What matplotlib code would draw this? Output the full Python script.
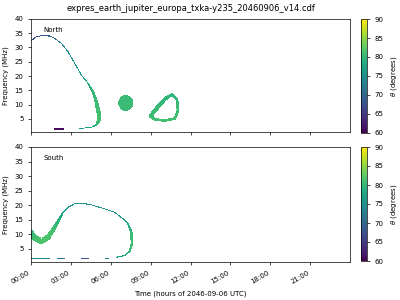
import numpy as np
import matplotlib
matplotlib.use("Agg")
import matplotlib.pyplot as plt

plt.rcParams['font.family'] = 'DejaVu Sans'
plt.rcParams['font.size'] = 5
plt.rcParams['axes.linewidth'] = 0.5
plt.rcParams['xtick.major.width'] = 0.5
plt.rcParams['ytick.major.width'] = 0.5
plt.rcParams['xtick.major.size'] = 2
plt.rcParams['ytick.major.size'] = 2

title = "expres_earth_jupiter_europa_txka-y235_20460906_v14.cdf"
hour_ticks = [0, 3, 6, 9, 12, 15, 18, 21]
hour_labels = ["00:00", "03:00", "06:00", "09:00", "12:00", "15:00", "18:00", "21:00"]
freq_ticks = [5, 10, 15, 20, 25, 30, 35, 40]

# North hemisphere: main arc (time h, freq MHz, theta deg, width px)
north_arc_t = [0.02, 0.4, 0.78, 1.4, 1.78, 2.27, 2.78, 3.28, 3.77, 4.28, 4.65, 4.9, 5.08, 5.1, 4.9, 4.52]
north_arc_f = [32.4, 33.8, 34.15, 34.05, 33.2, 31.5, 28.55, 24.5, 20.4, 17.5, 14.55, 11.05, 7.0, 4.65, 2.9, 2.1]
north_arc_theta = [67, 67.5, 68, 69, 70.5, 72, 74, 75.5, 76.5, 78, 80, 80.5, 81, 81, 80, 77]
north_arc_width = [1.1, 1.1, 1.1, 1.1, 1.1, 1.1, 1.1, 1.1, 1.2, 1.4, 2.5, 3.8, 4.3, 4, 2.2, 1.1]

# North: ring shaped emission (closed)
north_ring_t = [8.96, 9.45, 10.05, 10.58, 10.95, 11.03, 10.8, 10.05, 9.3, 8.96]
north_ring_f = [6.05, 8.85, 12.0, 13.6, 11.65, 8.15, 5.18, 4.48, 4.83, 6.05]
north_ring_theta = [80.5, 80.5, 80, 79.5, 80, 80.5, 81, 81, 81, 80.5]
north_ring_width = [4, 4.3, 4, 2.8, 2.8, 2.8, 2.8, 2.6, 3, 4]

# North: round blob
north_blob_t, north_blob_f = 7.11, 10.6
north_blob_dt, north_blob_df = 0.56, 2.8
north_blob_theta = 80.5

# North: short low-frequency pieces
north_dash_t0 = [1.78, 3.67, 4.13]
north_dash_t1 = [2.45, 3.92, 4.43]
north_dash_f = [1.5, 1.74, 2.1]
north_dash_theta = [61, 75, 77]

# South hemisphere: main curve
south_arc_t = [0.0, 0.3, 0.77, 1.28, 1.65, 2.03, 2.4, 2.78, 3.28, 3.77, 4.52, 5.53, 6.28, 6.9, 7.28, 7.52, 7.58, 7.4, 7.03, 6.4]
south_arc_f = [10.3, 8.6, 7.6, 8.9, 11.2, 14.3, 17.5, 19.3, 20.5, 20.7, 20.1, 18.7, 17.5, 15.2, 13.5, 10.6, 7.1, 4.2, 2.7, 2.1]
south_arc_theta = [80, 81, 81.5, 81.5, 81, 79.5, 77, 75.5, 75, 75, 75, 75, 75.5, 76.5, 78, 80, 81, 80, 78, 76]
south_arc_width = [6, 5.5, 5, 5, 4.5, 3.2, 1.8, 1.2, 1.1, 1.1, 1.1, 1.1, 1.1, 1.3, 1.8, 2.6, 2.6, 1.8, 1.2, 1.1]

# South: low-frequency pieces
south_dash_t0 = [0.0, 2.03, 3.77, 5.57]
south_dash_t1 = [1.4, 2.53, 4.28, 5.83]
south_dash_f = [1.65, 1.65, 1.65, 1.65]
south_dash_theta = [74, 72, 67, 74]

t_edges = np.linspace(0, 24, 321)
f_edges = np.linspace(0.45, 40, 114)
tc = (t_edges[:-1] + t_edges[1:]) / 2
fc = (f_edges[:-1] + f_edges[1:]) / 2
TT, FF = np.meshgrid(tc, fc)

fig = plt.figure(figsize=(4, 3), dpi=100)
ax1 = fig.add_axes([0.0775, 0.56, 0.7975, 0.377])
ax2 = fig.add_axes([0.0775, 0.127, 0.7975, 0.383], sharex=ax1)
cax1 = fig.add_axes([0.902, 0.558, 0.015, 0.378])
cax2 = fig.add_axes([0.902, 0.13, 0.015, 0.38])

# pixels per hour / per MHz, used to paint curves with a pixel width
xs = 0.7975 * 400 / 24
ys = 0.377 * 300 / (40 - 0.45)
GX, GY = TT * xs, FF * ys


def paint(grid, t, f, w, th):
    px, py = np.asarray(t) * xs, np.asarray(f) * ys
    for i in range(len(px) - 1):
        dx, dy = px[i + 1] - px[i], py[i + 1] - py[i]
        L2 = max(dx * dx + dy * dy, 1e-9)
        u = np.clip(((GX - px[i]) * dx + (GY - py[i]) * dy) / L2, 0, 1)
        d = np.hypot(GX - px[i] - u * dx, GY - py[i] - u * dy)
        hw = (w[i] + u * (w[i + 1] - w[i])) / 2
        val = th[i] + u * (th[i + 1] - th[i])
        m = d <= hw
        grid[m] = val[m]


def paint_dashes(grid, t0, t1, f, th):
    for a, b, ff, v in zip(t0, t1, f, th):
        paint(grid, [a, b], [ff, ff], [1.3, 1.3], [v, v])


north = np.full(TT.shape, np.nan)
paint(north, north_arc_t, north_arc_f, north_arc_width, north_arc_theta)
paint(north, north_ring_t, north_ring_f, north_ring_width, north_ring_theta)
paint_dashes(north, north_dash_t0, north_dash_t1, north_dash_f, north_dash_theta)
blob = ((TT - north_blob_t) / north_blob_dt) ** 2 + ((FF - north_blob_f) / north_blob_df) ** 2 <= 1
north[blob] = north_blob_theta

south = np.full(TT.shape, np.nan)
paint(south, south_arc_t, south_arc_f, south_arc_width, south_arc_theta)
paint_dashes(south, south_dash_t0, south_dash_t1, south_dash_f, south_dash_theta)

for ax, cax, data, name in [(ax1, cax1, north, "North"), (ax2, cax2, south, "South")]:
    mesh = ax.pcolormesh(t_edges, f_edges, np.ma.masked_invalid(data), cmap='viridis',
                         vmin=60, vmax=90, shading='flat', antialiased=False, edgecolors='none')
    ax.set_xlim(0, 24)
    ax.set_ylim(0.45, 40)
    ax.set_yticks(freq_ticks)
    ax.set_ylabel("Frequency (MHz)")
    ax.text(0.04, 0.905, name, transform=ax.transAxes, va='center', ha='left')
    cb = fig.colorbar(mesh, cax=cax)
    cb.set_ticks([60, 65, 70, 75, 80, 85, 90])
    cb.set_label(r"$\theta$ (degrees)")
    cb.outline.set_linewidth(0.5)

ax1.set_xticks(hour_ticks)
ax2.set_xticks(hour_ticks)
ax2.set_xticklabels(hour_labels, rotation=30, ha='right')
plt.setp(ax1.get_xticklabels(), visible=False)
ax2.set_xlabel("Time (hours of 2046-09-06 UTC)")
ax1.set_title(title, fontsize=6)

fig.savefig("out.png", dpi=100)
